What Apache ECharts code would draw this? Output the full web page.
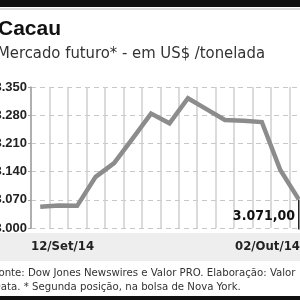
<!DOCTYPE html>
<html><head><meta charset="utf-8">
<script src="https://cdn.jsdelivr.net/npm/echarts@6/dist/echarts.min.js"></script>
<style>html,body{margin:0;padding:0;background:#fff;}#c{width:300px;height:300px;}</style>
</head><body><div id="c"></div>
<script>
const categories = ['12/Set/14','15/Set/14','16/Set/14','17/Set/14','18/Set/14','19/Set/14','22/Set/14','23/Set/14','24/Set/14','25/Set/14','26/Set/14','29/Set/14','30/Set/14','01/Out/14','02/Out/14'];
const prices = [3053, 3056, 3055, 3127, 3161, 3222, 3284, 3260, 3322, 3295, 3268, 3266, 3263, 3144, 3071];
const yTicks = [3000, 3070, 3140, 3210, 3280, 3350];
const xEndLabels = ['12/Set/14', '02/Out/14'];
const lastLabel = '3.071,00';
const title = 'Cacau';
const subtitle = 'Mercado futuro* - em US$ /tonelada';
const source1 = 'Fonte: Dow Jones Newswires e Valor PRO. Elaboração: Valor';
const source2 = 'Data. * Segunda posição, na bolsa de Nova York.';

const fmt = v => String(v).replace(/\B(?=(\d{3})+(?!\d))/g, '.');
const chart = echarts.init(document.getElementById('c'), null, {renderer:'canvas'});
const narrow = '"Liberation Sans Narrow","DejaVu Sans Condensed","Roboto Condensed",Roboto,sans-serif';
chart.setOption({
  animation: false,
  backgroundColor: '#fff',
  grid: {left: 31, top: 87, width: 277, bottom: 72, containLabel: false, outerBoundsMode: 'none'},
  xAxis: {
    type: 'category', data: categories, boundaryGap: true,
    axisLine: {show: false}, axisTick: {show: false}, axisLabel: {show: false},
    splitLine: {show: true, interval: 0, lineStyle: {color: '#cfcfcf', width: 1.5, type: 'solid'}}
  },
  yAxis: {
    type: 'value', min: yTicks[0], max: yTicks[yTicks.length-1], interval: 70,
    axisLine: {show: true, lineStyle: {color: '#a0a0a0', width: 1.5}},
    axisTick: {show: true, length: 3, lineStyle: {color: '#a0a0a0'}},
    axisLabel: {color: '#222', fontWeight: 'bold', fontSize: 13, margin: 4, fontFamily: '"Liberation Sans", Arial, sans-serif', formatter: v => fmt(v)},
    splitLine: {show: true, lineStyle: {color: '#c8c8c8', type: [5, 4], width: 1}}
  },
  series: [{
    type: 'line', data: prices, symbol: 'none', z: 5,
    lineStyle: {color: '#8c8c8c', width: 4.5, join: 'miter'},
    markPoint: {
      symbol: 'rect', symbolSize: [1.5, 30], symbolOffset: [0, 15],
      itemStyle: {color: '#222'},
      data: [{coord: [categories.length-1, prices[prices.length-1]],
        label: {show: true, formatter: lastLabel, position: 'left', distance: 3, offset: [0, 2], color: '#111', fontWeight: 'bold', fontSize: 14, fontFamily: narrow}}]
    }
  }],
  graphic: [
    {type: 'rect', shape: {x: 0, y: 0, width: 300, height: 7}, style: {fill: '#111'}},
    {type: 'rect', shape: {x: 0, y: 8.5, width: 300, height: 1}, style: {fill: '#bbb'}},
    {type: 'text', x: -2, y: 19, style: {text: title, font: 'bold 21px "Liberation Sans", Arial, sans-serif', fill: '#111'}},
    {type: 'text', x: -3, y: 45, style: {text: subtitle, font: '16.5px ' + narrow, fill: '#333'}},
    {type: 'rect', shape: {x: 0, y: 233, width: 300, height: 28}, style: {fill: '#eeeeee'}, z: -1},
    {type: 'text', x: 31, y: 240, style: {text: xEndLabels[0], font: 'bold 13px ' + narrow, fill: '#222'}},
    {type: 'text', x: 300, y: 240, style: {text: xEndLabels[1], align: 'right', font: 'bold 13px ' + narrow, fill: '#222'}},
    {type: 'text', x: -7, y: 268, style: {text: source1, font: '11.3px ' + narrow, fill: '#333'}},
    {type: 'text', x: -7, y: 282, style: {text: source2, font: '11.3px ' + narrow, fill: '#333'}},
    {type: 'rect', shape: {x: 0, y: 296, width: 300, height: 4}, style: {fill: '#111'}}
  ]
});
</script></body></html>
